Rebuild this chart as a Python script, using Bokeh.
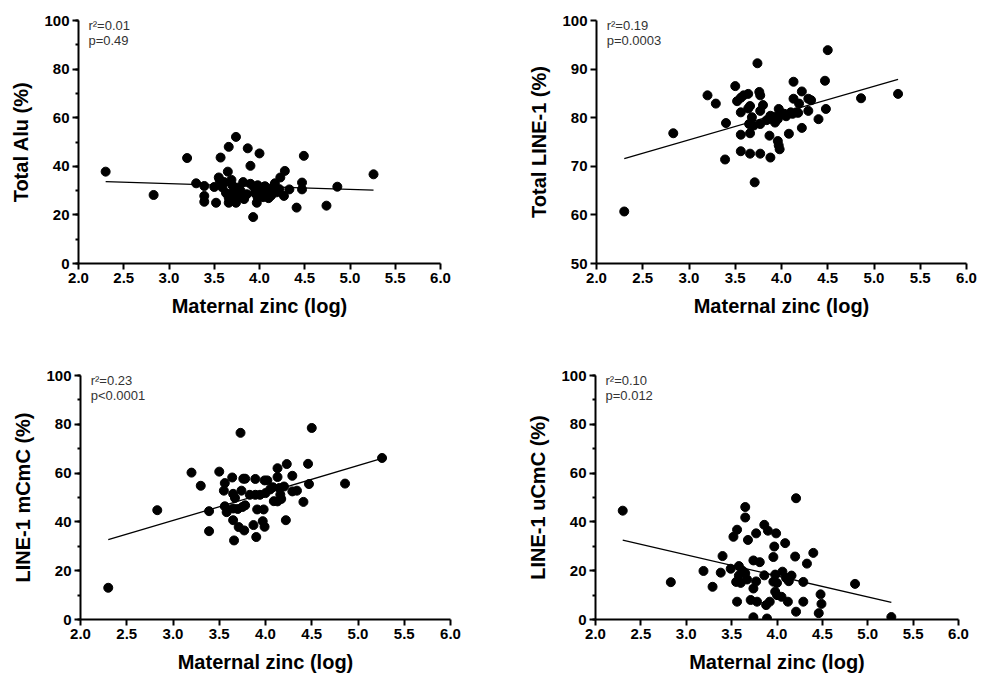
from bokeh.plotting import figure
from bokeh.layouts import column, row
from bokeh.models import Range1d, SingleIntervalTicker, NumeralTickFormatter, Label
from bokeh.embed import file_html
from bokeh.resources import INLINE

FONT = "Liberation Sans"
X_LABEL = "Maternal zinc (log)"
FIT_X = [2.30, 5.26]

# Panel A: Total Alu
alu_x = [2.30, 2.83, 3.20, 3.30, 3.39, 3.39, 3.39, 3.50, 3.52, 3.55, 3.56, 3.57, 3.59, 3.61,
         3.63, 3.65, 3.66, 3.66, 3.66, 3.69, 3.70, 3.71, 3.73, 3.74, 3.74, 3.77, 3.77, 3.79,
         3.82, 3.83, 3.86, 3.87, 3.90, 3.90, 3.93, 3.94, 3.95, 3.97, 3.98, 3.98, 4.00, 4.01,
         4.04, 4.06, 4.09, 4.10, 4.12, 4.13, 4.15, 4.17, 4.19, 4.22, 4.23, 4.27, 4.28, 4.33,
         4.41, 4.47, 4.47, 4.49, 4.74, 4.86, 5.26]
alu_y = [37.8, 28.2, 43.4, 33.0, 31.9, 27.8, 25.4, 31.5, 25.0, 35.4, 34.3, 43.6, 31.3, 33.5,
         29.0, 37.8, 48.0, 27.0, 25.0, 34.4, 32.2, 29.4, 27.3, 52.1, 25.0, 31.3, 27.8, 30.0,
         33.5, 26.5, 28.5, 47.4, 40.2, 32.8, 19.1, 31.3, 29.0, 25.0, 27.1, 32.2, 45.3, 30.0,
         27.3, 31.8, 28.5, 26.9, 30.0, 28.0, 31.5, 33.0, 29.3, 30.6, 35.4, 27.8, 38.1, 30.5,
         23.0, 33.3, 30.5, 44.3, 23.8, 31.6, 36.7]
alu_fit = [33.7, 30.2]

# Panel B: Total LINE-1
l1_x = [2.30, 2.83, 3.20, 3.29, 3.39, 3.40, 3.50, 3.52, 3.56, 3.56, 3.56, 3.56, 3.59, 3.64,
        3.64, 3.65, 3.66, 3.66, 3.66, 3.68, 3.70, 3.71, 3.74, 3.76, 3.77, 3.77, 3.77, 3.77,
        3.80, 3.84, 3.87, 3.88, 3.88, 3.90, 3.92, 3.93, 3.96, 3.96, 3.97, 3.97, 3.98, 3.99,
        4.03, 4.05, 4.08, 4.10, 4.12, 4.13, 4.13, 4.16, 4.18, 4.19, 4.22, 4.22, 4.29, 4.29,
        4.32, 4.40, 4.47, 4.48, 4.50, 4.86, 5.26]
l1_y = [60.7, 76.8, 84.6, 82.9, 71.4, 78.9, 86.5, 83.4, 84.1, 81.1, 76.5, 73.1, 84.6, 84.9,
        81.9, 78.7, 82.4, 76.8, 72.6, 80.1, 78.4, 66.7, 91.2, 85.3, 84.6, 81.4, 78.7, 72.6,
        82.6, 79.5, 76.3, 80.4, 71.8, 79.7, 80.2, 79.0, 79.7, 75.2, 81.8, 74.3, 73.5, 81.1,
        80.8, 80.3, 76.7, 81.1, 80.8, 83.9, 87.4, 81.1, 81.0, 82.9, 85.4, 77.9, 83.9, 81.4,
        83.6, 79.7, 87.6, 81.8, 93.9, 84.0, 84.9]
l1_fit = [71.6, 87.9]

# Panel C: LINE-1 mCmC
m_x = [2.30, 2.83, 3.20, 3.30, 3.39, 3.39, 3.50, 3.55, 3.56, 3.56, 3.58, 3.64, 3.65, 3.65,
       3.65, 3.66, 3.67, 3.70, 3.71, 3.73, 3.74, 3.75, 3.76, 3.78, 3.78, 3.77, 3.83, 3.87,
       3.89, 3.89, 3.90, 3.91, 3.94, 3.97, 3.99, 3.98, 3.99, 4.00, 4.02, 4.05, 4.08, 4.09,
       4.13, 4.13, 4.13, 4.15, 4.16, 4.17, 4.20, 4.22, 4.23, 4.29, 4.29, 4.34, 4.41, 4.46,
       4.47, 4.50, 4.86, 5.26]
m_y = [13.0, 44.8, 60.2, 54.8, 44.4, 36.2, 60.6, 52.8, 55.9, 46.4, 44.0, 58.2, 51.5, 45.5,
       40.7, 32.4, 49.8, 45.3, 37.9, 76.5, 52.8, 46.1, 57.7, 57.7, 46.8, 36.5, 51.1, 38.7,
       57.6, 51.1, 33.8, 45.1, 51.1, 40.3, 57.0, 45.1, 38.0, 51.8, 57.0, 53.3, 54.2, 48.5,
       62.0, 58.4, 48.4, 53.9, 51.2, 49.4, 54.5, 40.7, 63.7, 58.9, 52.5, 52.8, 48.2, 63.8,
       55.5, 78.5, 55.7, 66.2]
m_fit = [32.7, 66.0]

# Panel D: LINE-1 uCmC
u_x = [2.30, 2.83, 3.19, 3.29, 3.38, 3.40, 3.49, 3.52, 3.55, 3.56, 3.56, 3.58, 3.58, 3.60,
       3.62, 3.65, 3.65, 3.65, 3.67, 3.68, 3.71, 3.74, 3.74, 3.74, 3.77, 3.77, 3.78, 3.81,
       3.86, 3.86, 3.88, 3.89, 3.90, 3.92, 3.96, 3.96, 3.97, 3.98, 3.98, 3.99, 4.00, 4.00,
       4.05, 4.06, 4.09, 4.10, 4.12, 4.13, 4.16, 4.20, 4.21, 4.21, 4.29, 4.29, 4.33, 4.40,
       4.46, 4.48, 4.49, 4.86, 5.26]
u_y = [44.6, 15.3, 19.9, 13.4, 19.2, 26.0, 20.8, 33.9, 15.4, 36.8, 7.3, 21.9, 18.0, 15.0,
       20.0, 46.1, 41.8, 19.0, 16.4, 32.6, 8.0, 24.2, 12.7, 0.9, 35.3, 15.6, 7.3, 23.5,
       38.8, 18.1, 5.9, 0.4, 36.4, 7.3, 25.6, 15.5, 29.9, 18.4, 11.4, 35.3, 15.0, 10.0,
       9.3, 19.6, 31.3, 17.0, 7.3, 15.7, 18.0, 25.8, 49.7, 3.2, 15.4, 7.3, 22.9, 27.3,
       2.6, 10.3, 6.4, 14.6, 1.0]
u_fit = [32.5, 7.0]


def panel(x, y, fit, ylabel, yr, ystep, yminor, r2, pval, width, height,
          bl, br, bt, bb):
    p = figure(width=width, height=height, x_range=Range1d(2, 6),
               y_range=Range1d(yr[0], yr[1]), output_backend="svg",
               toolbar_location=None, min_border_left=bl, min_border_right=br,
               min_border_top=bt, min_border_bottom=bb)
    p.outline_line_color = None
    p.xgrid.visible = False
    p.ygrid.visible = False
    p.background_fill_color = "white"
    p.border_fill_color = "white"
    p.xaxis.ticker = SingleIntervalTicker(interval=0.5, num_minor_ticks=0)
    p.yaxis.ticker = SingleIntervalTicker(interval=ystep, num_minor_ticks=yminor)
    p.xaxis.formatter = NumeralTickFormatter(format="0.0")
    p.xaxis.axis_label = X_LABEL
    p.yaxis.axis_label = ylabel
    for ax in (p.xaxis[0], p.yaxis[0]):
        ax.axis_line_width = 2
        ax.axis_line_color = "black"
        ax.major_tick_line_width = 2
        ax.minor_tick_line_width = 2
        ax.major_tick_line_color = "black"
        ax.minor_tick_line_color = "black"
        ax.major_tick_out = 6
        ax.major_tick_in = 0
        ax.minor_tick_out = 3
        ax.minor_tick_in = 0
        ax.major_label_standoff = 3
        ax.axis_label_standoff = 9
        ax.major_label_text_font = FONT
        ax.major_label_text_font_style = "bold"
        ax.major_label_text_font_size = "15px"
        ax.major_label_text_color = "black"
        ax.axis_label_text_font = FONT
        ax.axis_label_text_font_style = "bold"
        ax.axis_label_text_font_size = "20px"
        ax.axis_label_text_color = "black"
    p.line(FIT_X, fit, line_color="black", line_width=1.3)
    p.scatter(x, y, marker="circle", size=9, fill_color="black", line_color="black")
    span = yr[1] - yr[0]
    p.add_layout(Label(x=2.11, y=yr[1] - 0.052 * span, text=r2, text_font=FONT,
                       text_font_size="13px", text_color="#333333"))
    p.add_layout(Label(x=2.11, y=yr[1] - 0.112 * span, text=pval, text_font=FONT,
                       text_font_size="13px", text_color="#333333"))
    return p


p1 = panel(alu_x, alu_y, alu_fit, "Total Alu (%)", (0, 100), 20, 2,
           "r²=0.01", "p=0.49", 493, 338, 78, 53, 19, 75)
p2 = panel(l1_x, l1_y, l1_fit, "Total LINE-1 (%)", (50, 100), 10, 0,
           "r²=0.19", "p=0.0003", 486, 338, 103, 13, 20, 71)
p3 = panel(m_x, m_y, m_fit, "LINE-1 mCmC (%)", (0, 100), 20, 2,
           "r²=0.23", "p<0.0001", 493, 337, 80, 43, 37, 54)
p4 = panel(u_x, u_y, u_fit, "LINE-1 uCmC (%)", (0, 100), 20, 2,
           "r²=0.10", "p=0.012", 486, 337, 102, 21, 37, 54)

layout = column(row(p1, p2), row(p3, p4))
open("out.html", "w").write(file_html(layout, INLINE))
